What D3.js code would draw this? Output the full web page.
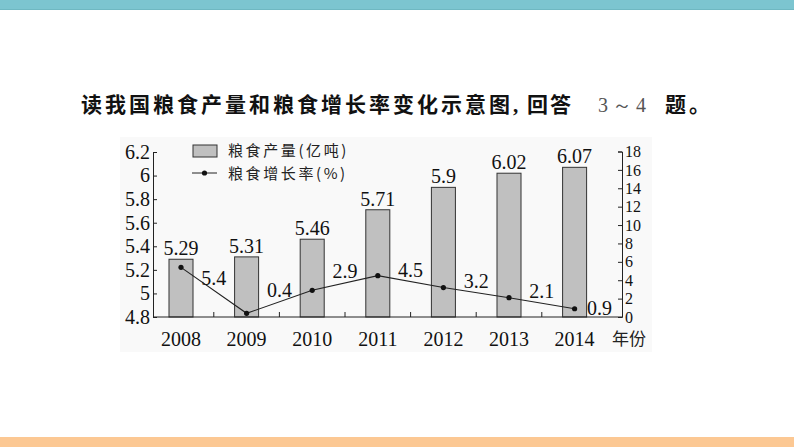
<!DOCTYPE html>
<html><head><meta charset="utf-8">
<script src="https://cdn.jsdelivr.net/npm/d3@7"></script>
<style>
html,body{margin:0;padding:0;background:#fff;}
svg{display:block;}
</style></head>
<body><svg id="c" width="794" height="447"></svg>
<script>
const years = ["2008","2009","2010","2011","2012","2013","2014"];
const output = [5.29, 5.31, 5.46, 5.71, 5.9, 6.02, 6.07];
const growth = [5.4, 0.4, 2.9, 4.5, 3.2, 2.1, 0.9];
const leftTicks = [4.8, 5, 5.2, 5.4, 5.6, 5.8, 6, 6.2];
const rightTicks = [0, 2, 4, 6, 8, 10, 12, 14, 16, 18];
const titleParts = ["读我国粮食产量和粮食增长率变化示意图", ",", "回答", "3～4", "题。"];
const legendLabels = ["粮食产量(亿吨)", "粮食增长率(%)"];
const xUnit = "年份";

const svg = d3.select("#c");
const serif = "'Liberation Serif','Times New Roman',serif";
const cjk = "'Noto Sans CJK SC','Noto Sans',sans-serif";

// decorative bands
svg.append("rect").attr("x",0).attr("y",0).attr("width",794).attr("height",10).attr("fill","#7cc5d0");
svg.append("rect").attr("x",0).attr("y",9).attr("width",794).attr("height",1).attr("fill","#6fb8c2");
svg.append("rect").attr("x",0).attr("y",437).attr("width",794).attr("height",10).attr("fill","#fcc893");

// title
const t = svg.append("text").attr("x",81).attr("y",112).attr("font-family",cjk).attr("font-size",21)
  .attr("font-weight","bold").attr("fill","#111");
t.append("tspan").attr("letter-spacing",3).text(titleParts[0]);
t.append("tspan").attr("x",513).attr("font-family",serif).text(titleParts[1]);
t.append("tspan").attr("x",527).attr("letter-spacing",2).text(titleParts[2]);
t.append("tspan").attr("x",598).attr("font-family",serif).attr("font-weight","normal").attr("fill","#555")
  .attr("font-size",20).attr("letter-spacing",4).text(titleParts[3]);
t.append("tspan").attr("x",665).attr("letter-spacing",3).text(titleParts[4]);

// faint scan background
svg.append("rect").attr("x",120).attr("y",137).attr("width",532).attr("height",215).attr("fill","#f9f9f9");

const x = d3.scaleBand().domain(years).range([148.2, 607.4]).paddingInner(0.634).paddingOuter(0.317);
const yL = d3.scaleLinear().domain([4.8, 6.2]).range([317, 152]);
const yR = d3.scaleLinear().domain([0, 18]).range([317, 151.5]);
const cx = d => x(d) + x.bandwidth()/2;

// bars
svg.append("g").selectAll("rect").data(years).join("rect")
  .attr("x", d => x(d)).attr("y", (d,i) => yL(output[i]))
  .attr("width", x.bandwidth()).attr("height", (d,i) => yL(4.8) - yL(output[i]))
  .attr("fill","#c0c0c0").attr("stroke","#333").attr("stroke-width",1);

// bar labels
svg.append("g").selectAll("text").data(years).join("text")
  .attr("x", d => cx(d)).attr("y", (d,i) => yL(output[i]) - 4)
  .attr("text-anchor","middle").attr("font-family",serif).attr("font-size",20).attr("fill","#111")
  .text((d,i) => output[i]);

// axes
const axL = svg.append("g").attr("transform","translate(153,0)")
  .call(d3.axisLeft(yL).tickValues(leftTicks).tickFormat(d => d).tickSize(-4).tickPadding(3));
const axR = svg.append("g").attr("transform","translate(622,0)")
  .call(d3.axisRight(yR).tickValues(rightTicks).tickFormat(d => d).tickSize(-4).tickPadding(3));
[axL, axR].forEach(a => {
  a.select(".domain").attr("stroke","#222");
  a.selectAll(".tick line").attr("stroke","#222");
  a.selectAll("text").attr("font-family",serif).attr("fill","#111");
});
axL.selectAll("text").attr("font-size",20);
axR.selectAll("text").attr("font-size",16);
const axB = svg.append("g").attr("transform","translate(0,317)")
  .call(d3.axisBottom(x).tickSize(0).tickPadding(15));
axB.select(".domain").remove();
axB.selectAll("text").attr("font-family",serif).attr("font-size",20).attr("fill","#111");
svg.append("line").attr("x1",153).attr("x2",622).attr("y1",317).attr("y2",317).attr("stroke","#222");
// category boundary ticks
svg.append("g").selectAll("line").data(years.slice(0,-1)).join("line")
  .attr("x1", d => cx(d) + x.step()/2).attr("x2", d => cx(d) + x.step()/2)
  .attr("y1",317).attr("y2",312).attr("stroke","#222");
svg.append("text").attr("x",612).attr("y",345).attr("font-family",cjk).attr("font-size",17).attr("fill","#222").text(xUnit);

// growth line
const line = d3.line().x((d,i) => cx(years[i])).y(d => yR(d));
svg.append("path").datum(growth).attr("d", line).attr("fill","none").attr("stroke","#222").attr("stroke-width",1.1);
svg.append("g").selectAll("circle").data(growth).join("circle")
  .attr("cx",(d,i) => cx(years[i])).attr("cy", d => yR(d)).attr("r",2.6).attr("fill","#111");
svg.append("g").selectAll("text").data(growth).join("text")
  .attr("x",(d,i) => i < growth.length-1 ? cx(years[i]) + x.step()/2 : cx(years[i]) + 25)
  .attr("y",(d,i) => i < growth.length-1 ? (yR(d)+yR(growth[i+1]))/2 - 12 : yR(d) - 1)
  .attr("dy","0.35em").attr("text-anchor","middle").attr("font-family",serif).attr("font-size",20).attr("fill","#111")
  .text(d => d);

// legend
svg.append("rect").attr("x",193).attr("y",145).attr("width",24).attr("height",12)
  .attr("fill","#c0c0c0").attr("stroke","#333");
svg.append("line").attr("x1",192).attr("x2",217).attr("y1",173).attr("y2",173).attr("stroke","#222");
svg.append("circle").attr("cx",204.5).attr("cy",173).attr("r",2.6).attr("fill","#111");
svg.append("g").selectAll("text").data(legendLabels).join("text")
  .attr("x",228).attr("y",(d,i) => 151 + i*22.5).attr("dy","0.35em")
  .attr("font-family",cjk).attr("font-size",15).attr("letter-spacing",2.6).attr("fill","#222").text(d => d);
</script></body></html>
